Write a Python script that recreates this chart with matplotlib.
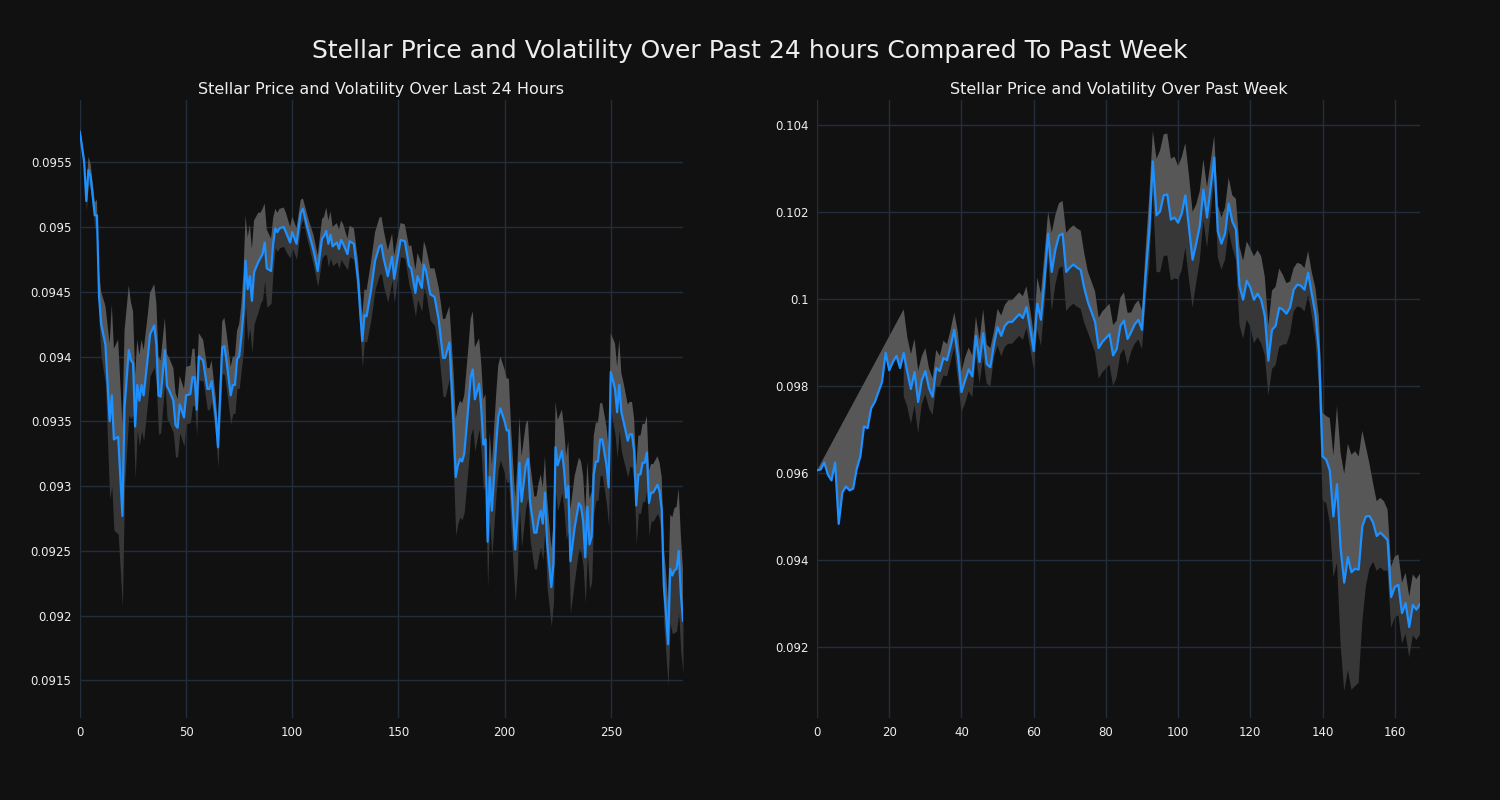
import numpy as np
import matplotlib
matplotlib.use('Agg')
import matplotlib.pyplot as plt

# last 24 hours: sample index, price, volatility
day_x = [0, 2, 3, 4, 5, 7, 8, 9, 10, 12, 14, 15, 16, 18, 20, 21, 23, 24, 25, 26,
         27, 28, 29, 30, 32, 33, 35, 36, 37, 38, 40, 41, 42, 44, 45, 46, 47, 49, 50, 52,
         53, 54, 55, 56, 58, 60, 61, 62, 64, 65, 67, 68, 69, 71, 72, 73, 74, 75, 76, 77,
         78, 79, 80, 81, 82, 84, 85, 86, 87, 88, 90, 91, 92, 93, 94, 96, 97, 99, 100, 102,
         104, 105, 107, 108, 110, 112, 114, 115, 116, 117, 118, 119, 121, 122, 123, 124, 126, 127, 129, 131,
         132, 133, 134, 135, 137, 139, 141, 142, 143, 145, 147, 148, 151, 153, 155, 156, 158, 159, 161, 162,
         163, 165, 167, 169, 171, 172, 174, 176, 177, 178, 179, 180, 181, 183, 184, 185, 186, 188, 189, 190,
         191, 192, 193, 194, 196, 197, 198, 200, 201, 202, 203, 205, 206, 207, 208, 210, 211, 212, 214, 215,
         216, 217, 218, 219, 220, 222, 223, 224, 225, 227, 228, 229, 230, 231, 233, 235, 236, 237, 238, 239,
         240, 241, 242, 243, 244, 245, 246, 248, 249, 250, 252, 253, 254, 255, 256, 258, 259, 260, 261, 262,
         263, 264, 265, 266, 267, 268, 269, 270, 272, 273, 274, 275, 276, 277, 278, 279, 280, 281, 282, 283,
         284]
day_price = [0.09573, 0.0955, 0.0952, 0.09544, 0.09539, 0.09509, 0.09509, 0.09446, 0.09425, 0.09409,
             0.0935, 0.0937, 0.09336, 0.09338, 0.09277, 0.0936, 0.09405, 0.09397, 0.09395, 0.09346,
             0.09378, 0.09366, 0.09378, 0.0937, 0.094, 0.09417, 0.09424, 0.09409, 0.0937, 0.09369,
             0.09405, 0.09377, 0.09374, 0.09366, 0.09347, 0.09345, 0.09363, 0.09353, 0.0937, 0.09371,
             0.09384, 0.09384, 0.09359, 0.094, 0.09397, 0.09375, 0.09375, 0.09381, 0.09353, 0.0933,
             0.09407, 0.09408, 0.09397, 0.0937, 0.09378, 0.09378, 0.09398, 0.094, 0.09415, 0.09434,
             0.09474, 0.09452, 0.09462, 0.09443, 0.09465, 0.09473, 0.09476, 0.09479, 0.09488, 0.09468,
             0.09466, 0.09487, 0.09499, 0.09496, 0.09499, 0.0950, 0.09496, 0.09488, 0.09496, 0.09487,
             0.09511, 0.09514, 0.0950, 0.09494, 0.09482, 0.09466, 0.09491, 0.09493, 0.09497, 0.09487,
             0.09494, 0.09485, 0.09488, 0.09483, 0.0949, 0.09487, 0.09479, 0.09489, 0.09487, 0.09459,
             0.09434, 0.09412, 0.09432, 0.09431, 0.0945, 0.09474, 0.09485, 0.09486, 0.09476, 0.09462,
             0.09477, 0.0946, 0.0949, 0.09489, 0.0947, 0.09468, 0.09449, 0.09462, 0.09453, 0.09471,
             0.09466, 0.09448, 0.09446, 0.09428, 0.09399, 0.09399, 0.09411, 0.09347, 0.09307, 0.09316,
             0.09321, 0.09319, 0.09325, 0.09363, 0.09384, 0.0939, 0.09367, 0.09379, 0.0936, 0.09332,
             0.09336, 0.09257, 0.09307, 0.09281, 0.09332, 0.09353, 0.0936, 0.0935, 0.09343, 0.09343,
             0.09307, 0.09251, 0.09276, 0.09318, 0.09288, 0.09316, 0.09321, 0.09288, 0.09264, 0.09264,
             0.09274, 0.09281, 0.09271, 0.09295, 0.09257, 0.09222, 0.0924, 0.0933, 0.09316, 0.09327,
             0.09313, 0.09291, 0.093, 0.09242, 0.09268, 0.09287, 0.09284, 0.09273, 0.09245, 0.09284,
             0.09255, 0.09261, 0.09309, 0.09319, 0.09319, 0.09336, 0.09336, 0.09316, 0.09299, 0.09388,
             0.09375, 0.09357, 0.09378, 0.09357, 0.0935, 0.09335, 0.0934, 0.0934, 0.09327, 0.09285,
             0.09309, 0.09309, 0.09318, 0.09318, 0.09326, 0.09287, 0.09295, 0.09295, 0.09301, 0.09296,
             0.09282, 0.09223, 0.09202, 0.09178, 0.09236, 0.09231, 0.09235, 0.09236, 0.0925, 0.09217,
             0.09196]
day_vol = [0.00004, 0.00005, 0.00008, 0.0001, 0.0001, 0.0001, 0.00012, 0.0002, 0.00025, 0.0003,
           0.0006, 0.0007, 0.0007, 0.00075, 0.0007, 0.0006, 0.0005, 0.00045, 0.0004, 0.0004,
           0.00035, 0.00035, 0.00035, 0.00035, 0.00033, 0.00032, 0.00032, 0.00032, 0.0003, 0.00028,
           0.00025, 0.00025, 0.00025, 0.00025, 0.00025, 0.00022, 0.00022, 0.00022, 0.00022, 0.00022,
           0.00022, 0.00022, 0.0002, 0.00018, 0.00016, 0.00016, 0.00016, 0.00016, 0.00015, 0.00015,
           0.0002, 0.00022, 0.00022, 0.00022, 0.00022, 0.00022, 0.00022, 0.00025, 0.00025, 0.0003,
           0.00035, 0.0004, 0.0004, 0.0004, 0.0004, 0.00038, 0.00035, 0.00035, 0.0003, 0.0003,
           0.00025, 0.0002, 0.00015, 0.00015, 0.00015, 0.00015, 0.00015, 0.00012, 0.00012, 0.00012,
           0.0001, 0.00008, 0.0001, 0.0001, 0.00012, 0.00012, 0.00015, 0.00015, 0.00018, 0.00018,
           0.00018, 0.00015, 0.00015, 0.00015, 0.00015, 0.00015, 0.00012, 0.00012, 0.00012, 0.00015,
           0.00018, 0.0002, 0.0002, 0.0002, 0.00022, 0.00022, 0.00022, 0.00022, 0.00022, 0.0002,
           0.00018, 0.00018, 0.00013, 0.00013, 0.00015, 0.00018, 0.00018, 0.00018, 0.00018, 0.00018,
           0.00018, 0.0002, 0.00022, 0.00025, 0.0003, 0.0003, 0.00028, 0.0004, 0.00045, 0.00045,
           0.00045, 0.00045, 0.00045, 0.00045, 0.00045, 0.00045, 0.0004, 0.00035, 0.00035, 0.00035,
           0.00035, 0.00035, 0.00035, 0.00035, 0.00038, 0.0004, 0.0004, 0.0004, 0.0004, 0.0004,
           0.0004, 0.0004, 0.0004, 0.00035, 0.00035, 0.00032, 0.0003, 0.0003, 0.00028, 0.00028,
           0.00028, 0.00028, 0.00028, 0.00028, 0.00035, 0.0003, 0.0003, 0.00035, 0.00035, 0.00032,
           0.00032, 0.00032, 0.00035, 0.0004, 0.0004, 0.00035, 0.00035, 0.00035, 0.00035, 0.00035,
           0.00035, 0.00035, 0.0003, 0.0003, 0.0003, 0.00028, 0.00028, 0.0003, 0.0003, 0.0003,
           0.00035, 0.00035, 0.00035, 0.0003, 0.0003, 0.00028, 0.00025, 0.00025, 0.00025, 0.0003,
           0.0003, 0.0003, 0.0003, 0.0003, 0.00028, 0.00025, 0.00022, 0.00022, 0.00022, 0.00022,
           0.00025, 0.0003, 0.00032, 0.00032, 0.00042, 0.00045, 0.00048, 0.00048, 0.00048, 0.00045,
           0.0004]

# past week: hourly price and volatility (no volatility before hour 24)
week_price = [0.09606, 0.09608, 0.09624, 0.09596, 0.09583, 0.09624, 0.09483, 0.09555, 0.09569, 0.0956,
              0.09564, 0.0961, 0.09638, 0.09707, 0.09703, 0.09749, 0.09763, 0.09786, 0.09809, 0.09876,
              0.09836, 0.09855, 0.09869, 0.09841, 0.09876, 0.09832, 0.09793, 0.09832, 0.09763, 0.09813,
              0.09834, 0.09795, 0.09775, 0.09841, 0.09834, 0.09864, 0.09859, 0.09892, 0.09929, 0.09869,
              0.09786, 0.09813, 0.09838, 0.09822, 0.09915, 0.09855, 0.09921, 0.0985, 0.09843, 0.09896,
              0.09935, 0.09915, 0.09938, 0.09947, 0.09947, 0.09956, 0.09965, 0.09956, 0.09981, 0.09933,
              0.0988, 0.09989, 0.09952, 0.10044, 0.1015, 0.10062, 0.10113, 0.10145, 0.1015, 0.10062,
              0.10072, 0.10079, 0.10072, 0.10067, 0.10025, 0.09993, 0.0997, 0.09947, 0.09887, 0.09901,
              0.0991, 0.09919, 0.0987, 0.09885, 0.09938, 0.0995, 0.09908, 0.09924, 0.09942, 0.09952,
              0.09929, 0.10053, 0.10155, 0.10316, 0.10192, 0.10201, 0.10238, 0.1024, 0.10182, 0.10187,
              0.10175, 0.10196, 0.10238, 0.10164, 0.1009, 0.10127, 0.10168, 0.10251, 0.10187, 0.10256,
              0.10325, 0.10155, 0.10127, 0.1015, 0.10219, 0.10178, 0.1016, 0.1003, 0.09998, 0.10042,
              0.10026, 0.09998, 0.10012, 0.09998, 0.09961, 0.09858, 0.09929, 0.09938, 0.0998, 0.09975,
              0.09966, 0.0998, 0.10021, 0.10033, 0.1003, 0.10021, 0.1006, 0.10012, 0.09966, 0.09878,
              0.09638, 0.09631, 0.09606, 0.095, 0.09574, 0.09426, 0.09348, 0.09407, 0.09372, 0.0938,
              0.09378, 0.09477, 0.095, 0.09501, 0.09486, 0.09455, 0.09463, 0.09455, 0.09446, 0.09315,
              0.09338, 0.09343, 0.09278, 0.09301, 0.09246, 0.09297, 0.09286, 0.09299]
week_vol = [0.0] + [np.nan] * 23 + [
    0.001, 0.0008, 0.0008, 0.00076, 0.00072, 0.00055,
    0.00053, 0.00046, 0.00042, 0.00042, 0.00035, 0.0004, 0.00037, 0.00037, 0.0004, 0.00055,
    0.00046, 0.00053, 0.0005, 0.00048, 0.00044, 0.0005, 0.00055, 0.00045, 0.00044, 0.0003,
    0.00042, 0.00047, 0.00048, 0.0005, 0.0005, 0.0005, 0.0005, 0.0005, 0.00048, 0.00045,
    0.0004, 0.0006, 0.0006, 0.0006, 0.0005, 0.0009, 0.0008, 0.00075, 0.00075, 0.0009,
    0.0009, 0.0009, 0.0009, 0.0009, 0.0008, 0.0007, 0.0007, 0.0007, 0.0007, 0.0007,
    0.0007, 0.0007, 0.0007, 0.00065, 0.00065, 0.00065, 0.0006, 0.00045, 0.00045, 0.00045,
    0.00045, 0.0006, 0.0008, 0.0007, 0.0013, 0.0014, 0.0014, 0.0014, 0.0014, 0.0014,
    0.0013, 0.0013, 0.0012, 0.0012, 0.0011, 0.0009, 0.0008, 0.0007, 0.0007, 0.0006,
    0.0005, 0.0006, 0.0006, 0.0006, 0.0006, 0.0006, 0.0007, 0.0009, 0.0009, 0.0009,
    0.0009, 0.001, 0.001, 0.001, 0.0009, 0.0008, 0.0009, 0.0009, 0.0009, 0.0008,
    0.0007, 0.0006, 0.0005, 0.0005, 0.0005, 0.0005, 0.0005, 0.0005, 0.0006, 0.0008,
    0.001, 0.001, 0.0012, 0.0014, 0.0018, 0.0022, 0.0025, 0.0026, 0.0027, 0.0027,
    0.0026, 0.0022, 0.0016, 0.0012, 0.0009, 0.0008, 0.0008, 0.0008, 0.0007, 0.0007,
    0.0007, 0.0007, 0.0007, 0.0007, 0.0007, 0.0007, 0.0007, 0.0007]

day_ticks = [0.0915, 0.092, 0.0925, 0.093, 0.0935, 0.094, 0.0945, 0.095, 0.0955]
day_labels = ['0.0915', '0.092', '0.0925', '0.093', '0.0935', '0.094', '0.0945', '0.095', '0.0955']
week_ticks = [0.092, 0.094, 0.096, 0.098, 0.1, 0.102, 0.104]
week_labels = ['0.092', '0.094', '0.096', '0.098', '0.1', '0.102', '0.104']

BG = '#111111'
GRID = '#232e3c'
LINE = '#1e90ff'
UPPER = '#575757'
LOWER = '#373737'


def draw(ax, x, price, vol, title, ticks, labels, ylim):
    x = np.asarray(x, dtype=float)
    price = np.asarray(price)
    vol = np.asarray(vol)
    up = price + vol
    lo = price - vol
    ok = ~np.isnan(up)
    # upper band as polygon so missing points are bridged
    ax.fill(np.concatenate([x[ok], x[::-1]]), np.concatenate([up[ok], price[::-1]]),
            color=UPPER, lw=0, zorder=2)
    ax.fill_between(x, lo, price, color=LOWER, lw=0, zorder=2)
    ax.plot(x, price, color=LINE, lw=1.6, zorder=3)
    ax.set_facecolor(BG)
    ax.set_xlim(x[0], x[-1])
    ax.set_ylim(*ylim)
    ax.set_yticks(ticks)
    ax.set_yticklabels(labels)
    ax.grid(True, color=GRID, lw=1)
    ax.set_axisbelow(True)
    for s in ax.spines.values():
        s.set_visible(False)
    ax.tick_params(colors='#eeeeee', labelsize=8.5, length=0, pad=6)
    ax.set_title(title, color='#eeeeee', fontsize=11.5, pad=4)


fig = plt.figure(figsize=(15, 8), dpi=100, facecolor=BG)
ax1 = fig.add_axes([0.0533, 0.1025, 0.402, 0.7725])
ax2 = fig.add_axes([0.5447, 0.1025, 0.402, 0.7725])

draw(ax1, day_x, day_price, day_vol, 'Stellar Price and Volatility Over Last 24 Hours',
     day_ticks, day_labels, (0.09121, 0.09598))
draw(ax2, range(len(week_price)), week_price, week_vol, 'Stellar Price and Volatility Over Past Week',
     week_ticks, week_labels, (0.09037, 0.10457))
ax1.set_xticks([0, 50, 100, 150, 200, 250])
ax2.set_xticks([0, 20, 40, 60, 80, 100, 120, 140, 160])

fig.suptitle('Stellar Price and Volatility Over Past 24 hours Compared To Past Week',
             color='#eeeeee', fontsize=18, y=0.951)

fig.savefig('out.png', dpi=100, facecolor=BG)
